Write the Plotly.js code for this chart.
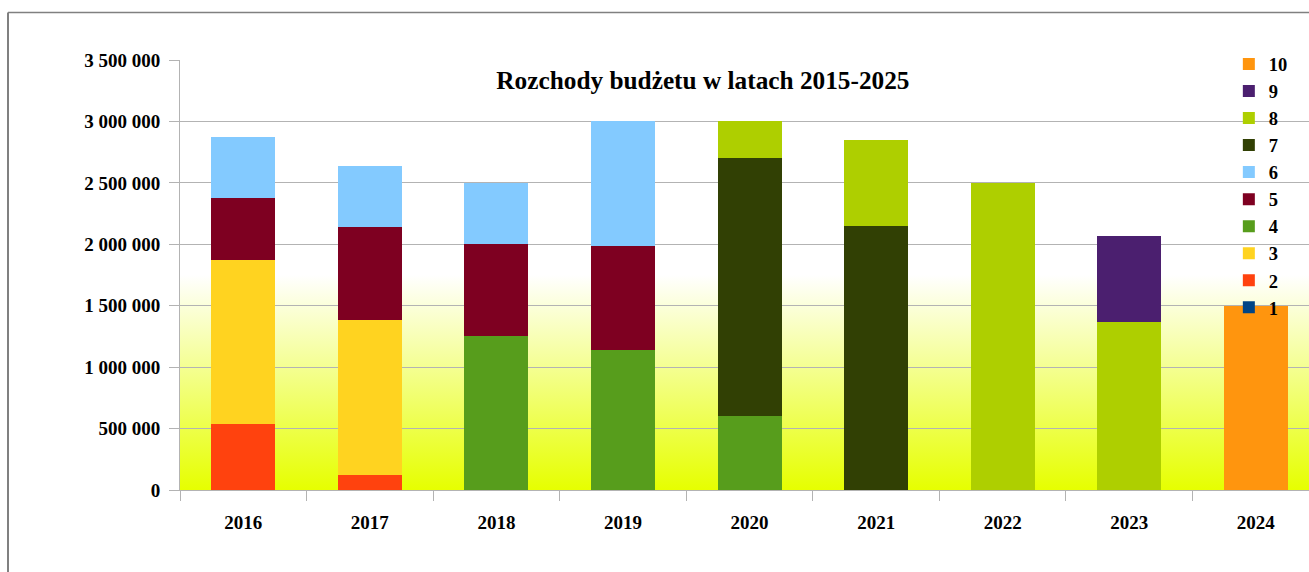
<!DOCTYPE html>
<html>
<head>
<meta charset="utf-8">
<script src="https://cdn.plot.ly/plotly-3.0.1.min.js"></script>
<style>
  html, body { margin: 0; padding: 0; background: #ffffff; overflow: hidden; }
  #chart { width: 1309px; height: 572px; }
</style>
</head>
<body>
<div id="chart"></div>
<script>
// ---- data ----
const years = ["2016", "2017", "2018", "2019", "2020", "2021", "2022", "2023", "2024"];
const seriesNames = ["1", "2", "3", "4", "5", "6", "7", "8", "9", "10"];
const s1  = [0, 0, 0, 0, 0, 0, 0, 0, 0];
const s2  = [540000, 120000, 0, 0, 0, 0, 0, 0, 0];
const s3  = [1330000, 1265000, 0, 0, 0, 0, 0, 0, 0];
const s4  = [0, 0, 1250000, 1140000, 600000, 0, 0, 0, 0];
const s5  = [505000, 755000, 750000, 850000, 0, 0, 0, 0, 0];
const s6  = [500000, 500000, 500000, 1010000, 0, 0, 0, 0, 0];
const s7  = [0, 0, 0, 0, 2100000, 2150000, 0, 0, 0];
const s8  = [0, 0, 0, 0, 300000, 700000, 2500000, 1370000, 0];
const s9  = [0, 0, 0, 0, 0, 0, 0, 700000, 0];
const s10 = [0, 0, 0, 0, 0, 0, 0, 0, 1500000];
const seriesValues = [s1, s2, s3, s4, s5, s6, s7, s8, s9, s10];
const colors = ["#004586", "#ff420e", "#ffd320", "#579d1c", "#7e0021",
                "#83caff", "#314004", "#aecf00", "#4b1f6f", "#ff950e"];

const FONT = "Liberation Serif, Times New Roman, serif";

const traces = seriesValues.map((vals, i) => ({
  type: "bar",
  name: seriesNames[i],
  x: years,
  y: vals,
  marker: { color: colors[i], line: { width: 0 } },
  hoverinfo: "skip"
}));

const gradSvg =
  '<svg xmlns="http://www.w3.org/2000/svg" width="100" height="100" viewBox="0 0 100 100" preserveAspectRatio="none">' +
  '<defs><linearGradient id="g" x1="0" y1="0" x2="0" y2="1">' +
  '<stop offset="0" stop-color="#ffffff"/><stop offset="0.5" stop-color="#ffffff"/>' +
  '<stop offset="1" stop-color="#e6ff00"/></linearGradient></defs>' +
  '<rect x="0" y="0" width="100" height="100" fill="url(#g)"/></svg>';
const gradUri = "data:image/svg+xml;charset=utf-8," + encodeURIComponent(gradSvg);

const layout = {
  width: 1309,
  height: 572,
  margin: { l: 180, r: 0, t: 59.5, b: 81.5, pad: 0 },
  paper_bgcolor: "#ffffff",
  plot_bgcolor: "rgba(0,0,0,0)",
  barmode: "stack",
  bargap: 0.495,
  separators: ", ",
  font: { family: FONT, color: "#000000", size: 19, weight: "bold" },
  title: {
    text: "Rozchody budżetu w latach 2015-2025",
    font: { family: FONT, size: 25.3, color: "#000000", weight: "bold" },
    x: 0.537, xref: "container", xanchor: "center",
    y: 1 - 80 / 572, yref: "container", yanchor: "middle"
  },
  xaxis: {
    type: "category",
    range: [-0.5, 8.42],
    showgrid: false,
    showline: true,
    linecolor: "#b3b3b3",
    linewidth: 1,
    ticks: "outside",
    tickson: "boundaries",
    ticklen: 10,
    tickcolor: "#b3b3b3",
    tickwidth: 1,
    ticklabelstandoff: 15,
    tickfont: { family: FONT, size: 19, color: "#000000", weight: "bold" },
    fixedrange: true
  },
  yaxis: {
    range: [0, 3500000],
    dtick: 500000,
    tick0: 0,
    tickformat: ",d",
    showgrid: true,
    gridcolor: "#b3b3b3",
    gridwidth: 1,
    zeroline: false,
    showline: true,
    linecolor: "#b3b3b3",
    linewidth: 1,
    ticks: "outside",
    ticklen: 10,
    tickcolor: "#b3b3b3",
    tickwidth: 1,
    ticklabelstandoff: 5,
    tickfont: { family: FONT, size: 19, color: "#000000", weight: "bold" },
    fixedrange: true
  },
  legend: {
    traceorder: "reversed",
    x: 0.929, xanchor: "left",
    y: 1.034, yanchor: "top",
    bgcolor: "rgba(0,0,0,0)",
    borderwidth: 0,
    font: { family: FONT, size: 18.5, color: "#000000", weight: "bold" }
  },
  images: [{
    source: gradUri,
    xref: "x domain", yref: "y domain",
    x: 0, y: 1, sizex: 1, sizey: 1,
    xanchor: "left", yanchor: "top",
    sizing: "stretch", layer: "below"
  }],
  shapes: [
    { type: "line", xref: "paper", yref: "paper",
      x0: (8 - 180) / 1129, x1: (8 - 180) / 1129, y0: (490.5 - 12) / 431, y1: -0.3,
      line: { color: "#808080", width: 2 } },
    { type: "line", xref: "paper", yref: "paper",
      x0: (8 - 180) / 1129, x1: 1.05, y0: (490.5 - 12) / 431, y1: (490.5 - 12) / 431,
      line: { color: "#808080", width: 1.5 } }
  ],
  showlegend: true
};

Plotly.newPlot("chart", traces, layout, { displayModeBar: false, staticPlot: true });
</script>
</body>
</html>
